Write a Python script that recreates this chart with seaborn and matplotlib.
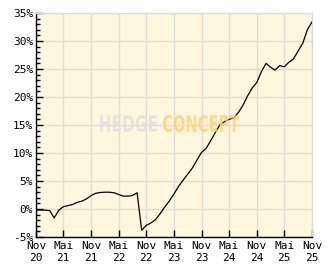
import matplotlib
matplotlib.use("Agg")
import matplotlib.pyplot as plt
import seaborn as sns
import pandas as pd
import numpy as np
from matplotlib.textpath import TextPath
from matplotlib.patches import PathPatch
from matplotlib.font_manager import FontProperties
from matplotlib.transforms import Affine2D, IdentityTransform

# ---- data ----
start_month = "2020-11-01"
perf_values = [
    -0.2, -0.2, -0.2, -0.3, -1.6, -0.2, 0.4, 0.6, 0.8, 1.2,
    1.4, 1.8, 2.4, 2.8, 2.95, 3.0, 3.0, 2.9, 2.6, 2.3,
    2.3, 2.4, 2.9, -3.8, -2.9, -2.5, -1.9, -0.8, 0.3, 1.4,
    2.6, 4.0, 5.1, 6.2, 7.3, 8.7, 10.1, 10.8, 12.2, 13.7,
    15.0, 15.6, 16.0, 16.3, 17.2, 18.5, 20.2, 21.6, 22.6, 24.5,
    26.0, 25.3, 24.8, 25.6, 25.4, 26.2, 26.8, 28.2, 29.6, 32.0,
    33.4,
]
x_tick_dates = ["2020-11-01", "2021-05-01", "2021-11-01", "2022-05-01", "2022-11-01",
                "2023-05-01", "2023-11-01", "2024-05-01", "2024-11-01", "2025-05-01",
                "2025-11-01"]
x_tick_labels = ["Nov\n20", "Mai\n21", "Nov\n21", "Mai\n22", "Nov\n22", "Mai\n23",
                 "Nov\n23", "Mai\n24", "Nov\n24", "Mai\n25", "Nov\n25"]
y_ticks = [-5, 0, 5, 10, 15, 20, 25, 30, 35]
y_tick_labels = ["-5%", "0%", "5%", "10%", "15%", "20%", "25%", "30%", "35%"]
watermark_words = ["HEDGE", "CONCEPT"]

df = pd.DataFrame({
    "date": pd.date_range(start_month, periods=len(perf_values), freq="MS"),
    "perf": perf_values,
})

# ---- figure ----
W, H = 332, 269
fig = plt.figure(figsize=(W / 100, H / 100), dpi=100)
fig.patch.set_facecolor("white")
ax = fig.add_axes([36 / W, 1 - 237 / H, (312 - 36) / W, (237 - 13) / H])
ax.set_facecolor("#FFF6DE")

sns.lineplot(data=df, x="date", y="perf", ax=ax, color="black", linewidth=0.9,
             zorder=3)

grid_c = "#DCDCDC"
ax.set_xlim(pd.Timestamp(x_tick_dates[0]), pd.Timestamp(x_tick_dates[-1]))
ax.set_ylim(-5, 35)
ax.set_xticks(pd.to_datetime(x_tick_dates))
ax.set_xticklabels(x_tick_labels)
ax.set_yticks(y_ticks)
ax.set_yticklabels(y_tick_labels)
ax.set_yticks(np.arange(-5, 36, 1), minor=True)
ax.grid(True, which="major", color=grid_c, linewidth=1.0, zorder=0)
ax.set_axisbelow(True)

mono = "DejaVu Sans Mono"
ax.tick_params(axis="both", which="major", direction="in", length=5, width=1,
               color="black", labelsize=8, labelcolor="black")
ax.tick_params(axis="y", which="minor", direction="in", length=3, width=1, color="black")
ax.tick_params(axis="y", which="major", pad=2)
ax.tick_params(axis="x", which="major", pad=3)
for lab in ax.get_xticklabels() + ax.get_yticklabels():
    lab.set_family(mono)
for lab in ax.get_xticklabels():
    lab.set_linespacing(1.25)

for s in ("top", "right"):
    ax.spines[s].set_color(grid_c)
    ax.spines[s].set_linewidth(1)
for s in ("left", "bottom"):
    ax.spines[s].set_color("black")
    ax.spines[s].set_linewidth(1)

ax.set_xlabel("")
ax.set_ylabel("")

# watermark: condensed bold words fitted into pixel boxes
fp = FontProperties(family="DejaVu Sans", weight="bold")
boxes = [(100, 157), (163, 239)]   # x-extent in pixels
y_top_px, y_bot_px = 115, 132
colors = ["#DEDEDE", "#FFCF70"]
for word, (x0, x1), col in zip(watermark_words, boxes, colors):
    tp = TextPath((0, 0), word, prop=fp, size=10)
    ext = tp.get_extents()
    sx = (x1 - x0) / ext.width
    sy = (y_bot_px - y_top_px) / ext.height
    tr = (Affine2D().translate(-ext.x0, -ext.y0).scale(sx, sy)
          .translate(x0, H - y_bot_px) + IdentityTransform())
    patch = PathPatch(tp, transform=tr, facecolor=col, edgecolor="none",
                      alpha=0.8, zorder=5)
    fig.add_artist(patch)

fig.savefig("out.png", dpi=100, facecolor="white")
